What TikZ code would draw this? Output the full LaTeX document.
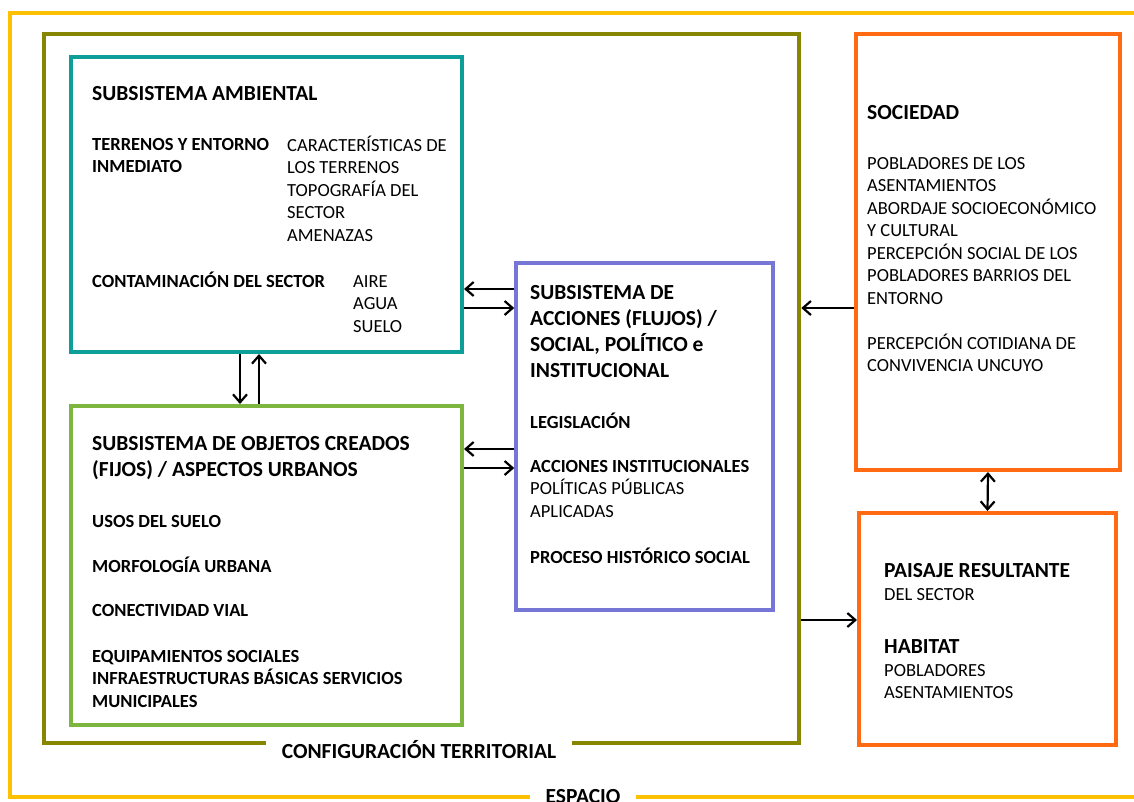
\documentclass[tikz,border=0pt]{standalone}
\usepackage{fontspec}
\setmainfont{Carlito}
\usetikzlibrary{arrows.meta}

\definecolor{espacio}{HTML}{FFC000}
\definecolor{territorio}{HTML}{868600}
\definecolor{ambiental}{HTML}{0E9E99}
\definecolor{objetos}{HTML}{7DB63F}
\definecolor{acciones}{HTML}{7676D6}
\definecolor{sociedad}{HTML}{FF6A13}

\begin{document}
\begin{tikzpicture}[
  x=1pt, y=-1pt,
  box/.style={draw, rectangle, inner sep=0pt, line width=4pt},
  txt/.style={anchor=base west, inner sep=0pt, align=left},
  ttl/.style={txt, font=\fontsize{21.5}{26}\selectfont\bfseries},
  bitem/.style={txt, font=\fontsize{18.5}{22.5}\selectfont\bfseries},
  item/.style={txt, font=\fontsize{18.5}{22.5}\selectfont},
  lbl/.style={fill=white, inner xsep=16pt, inner ysep=2pt, font=\fontsize{21.5}{26}\selectfont\bfseries},
  arr/.style={-{Straight Barb[length=8pt,width=14pt]}, line width=2.2pt},
  arr2/.style={{Straight Barb[length=8pt,width=14pt]}-{Straight Barb[length=8pt,width=14pt]}, line width=2.2pt}
]
\clip (0,0) rectangle (1134,801);

% marcos exteriores
\node[box, draw=espacio, minimum width=1140, minimum height=784] (esp) at (580,405) {};
\node[box, draw=territorio, line width=4.5pt, minimum width=755, minimum height=709] (conf) at (421.5,388.5) {};
\node[lbl] (espL) at (583,797) {ESPACIO};
\node[lbl] (confL) at (419,750) {CONFIGURACIÓN TERRITORIAL};

% subsistemas
\node[box, draw=ambiental, minimum width=391, minimum height=295] (amb) at (266.5,204.5) {};
\node[box, draw=objetos, minimum width=391, minimum height=319] (obj) at (266.5,565.5) {};
\node[box, draw=acciones, line width=3.5pt, minimum width=257, minimum height=347] (acc) at (644.5,436.5) {};
\node[box, draw=sociedad, minimum width=264, minimum height=436] (soc) at (988,252) {};
\node[box, draw=sociedad, minimum width=257, minimum height=232] (pai) at (987.5,629) {};

% textos (la base es la de la ultima linea)
\node[ttl] (ambT) at (92,100) {SUBSISTEMA AMBIENTAL};
\node[bitem] (ambA) at (92,172.5) {TERRENOS Y ENTORNO\\INMEDIATO};
\node[item] (ambB) at (287,241) {CARACTERÍSTICAS DE\\LOS TERRENOS\\TOPOGRAFÍA DEL\\SECTOR\\AMENAZAS};
\node[bitem] (ambC) at (92,287) {CONTAMINACIÓN DEL SECTOR};
\node[item] (ambD) at (353,332) {AIRE\\AGUA\\SUELO};

\node[ttl] (objT) at (92,476.5) {SUBSISTEMA DE OBJETOS CREADOS\\(FIJOS) / ASPECTOS URBANOS};
\node[bitem] (objA) at (92,527) {USOS DEL SUELO};
\node[bitem] (objB) at (92,572) {MORFOLOGÍA URBANA};
\node[bitem] (objC) at (92,616) {CONECTIVIDAD VIAL};
\node[bitem] (objD) at (92,707) {EQUIPAMIENTOS SOCIALES\\INFRAESTRUCTURAS BÁSICAS SERVICIOS\\MUNICIPALES};

\node[ttl] (accT) at (530,377) {SUBSISTEMA DE\\ACCIONES (FLUJOS) /\\SOCIAL, POLÍTICO e\\INSTITUCIONAL};
\node[bitem] (accA) at (530,428) {LEGISLACIÓN};
\node[item] (accB) at (530,517) {\bfseries ACCIONES INSTITUCIONALES\\POLÍTICAS PÚBLICAS\\APLICADAS};
\node[bitem] (accC) at (530,563) {PROCESO HISTÓRICO SOCIAL};

\node[ttl] (socT) at (867,119) {SOCIEDAD};
\node[item] (socA) at (867,304) {POBLADORES DE LOS\\ASENTAMIENTOS\\ABORDAJE SOCIOECONÓMICO\\Y CULTURAL\\PERCEPCIÓN SOCIAL DE LOS\\POBLADORES BARRIOS DEL\\ENTORNO};
\node[item] (socB) at (867,371.5) {PERCEPCIÓN COTIDIANA DE\\CONVIVENCIA UNCUYO};

\node[ttl] (paiT) at (884,577) {PAISAJE RESULTANTE};
\node[item] (paiA) at (884,600) {DEL SECTOR};
\node[ttl] (paiB) at (884,653) {HABITAT};
\node[item] (paiC) at (884,698.5) {POBLADORES\\ASENTAMIENTOS};

% flechas
\coordinate (a1) at ([yshift=147.5pt]acc.west);
\coordinate (a2) at ([yshift=128.5pt]acc.west);
\coordinate (a3) at ([yshift=-12.5pt]acc.west);
\coordinate (a4) at ([yshift=-31.5pt]acc.west);
\coordinate (b1) at ([xshift=-26.5pt]amb.south);
\coordinate (b2) at ([xshift=-7.5pt]amb.south);
\coordinate (c1) at ([yshift=-56pt]soc.west);
\coordinate (c2) at ([yshift=9pt]pai.west);

\draw[arr] (a1) -- (a1 -| amb.east);
\draw[arr] (a2 -| amb.east) -- (a2);
\draw[arr] (a3) -- (a3 -| obj.east);
\draw[arr] (a4 -| obj.east) -- (a4);
\draw[arr] (b1) -- (b1 |- obj.north);
\draw[arr] (b2 |- obj.north) -- (b2);
\draw[arr] (c1) -- (c1 -| conf.east);
\draw[arr] (c2 -| conf.east) -- (c2);
\draw[arr2] (soc.south) -- (pai.north);
\end{tikzpicture}
\end{document}
